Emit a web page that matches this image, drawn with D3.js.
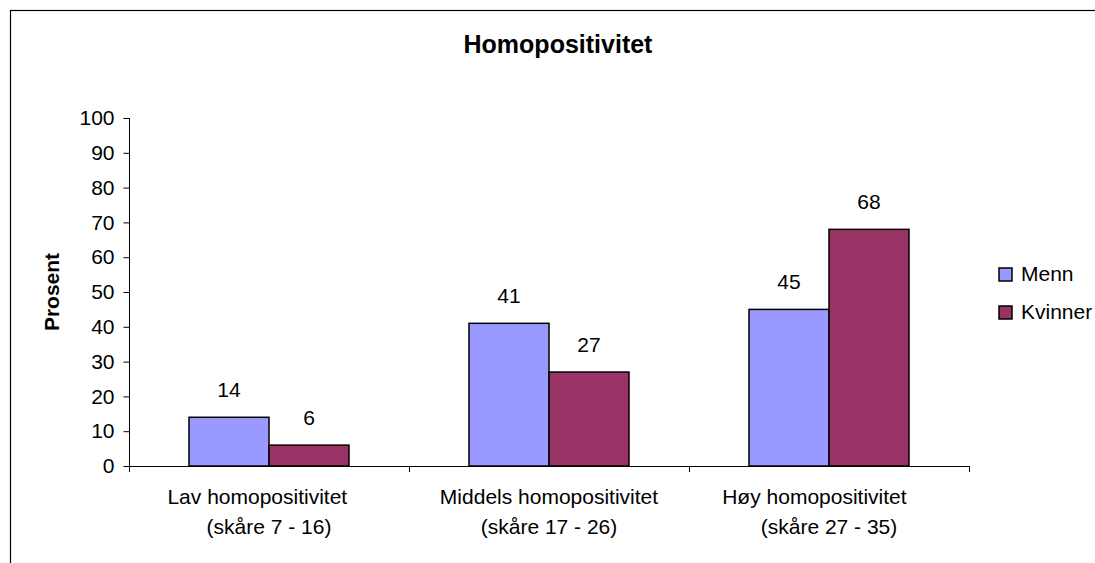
<!DOCTYPE html>
<html>
<head>
<meta charset="utf-8">
<script src="https://cdn.jsdelivr.net/npm/d3@7"></script>
<style>
  body { margin: 0; background: #fff; }
  svg { display: block; font-family: "Liberation Sans", Arial, sans-serif; }
</style>
</head>
<body>
<svg id="chart" width="1095" height="563"></svg>
<script>
//Chart data
var categories = ["Lav", "Middels", "Høy"];
var labelLine1 = ["Lav homopositivitet    ", "Middels homopositivitet", "Høy homopositivitet     "];
var labelLine2 = ["(skåre 7 - 16)", "(skåre 17 - 26)", "(skåre 27 - 35)"];
var seriesNames = ["Menn", "Kvinner"];
var menn = [14, 41, 45];
var kvinner = [6, 27, 68];
var yTicks = [0, 10, 20, 30, 40, 50, 60, 70, 80, 90, 100];
var colors = ["#9999FF", "#993366"];

var svg = d3.select("#chart");

//Outer frame (runs off the right and bottom edge)
svg.append("rect")
    .attr("x", 10.5).attr("y", 10.5)
    .attr("width", 1300).attr("height", 1000)
    .attr("fill", "none")
    .attr("stroke", "#000")
    .attr("stroke-width", 1.2);

//Scales
var xScale = d3.scaleBand()
    .domain(categories)
    .range([129, 969]);

var xInner = d3.scaleBand()
    .domain(seriesNames)
    .range([60, 220]);

var yScale = d3.scaleLinear()
    .domain([0, 100])
    .range([466, 118]);

//Title
svg.append("text")
    .attr("x", 558).attr("y", 53)
    .attr("text-anchor", "middle")
    .attr("font-size", 25)
    .attr("font-weight", "bold")
    .text("Homopositivitet");

//Y axis
var yAxis = d3.axisLeft(yScale)
    .tickValues(yTicks)
    .tickSize(6)
    .tickPadding(9)
    .tickSizeOuter(0);

var yG = svg.append("g")
    .attr("transform", "translate(129.5,0)")
    .call(yAxis);
yG.select(".domain").attr("stroke", "#000").attr("d", "M0,118V472");
yG.selectAll(".tick line").attr("stroke", "#000");
yG.selectAll(".tick text")
    .attr("font-size", 21)
    .attr("font-family", "Liberation Sans, Arial, sans-serif")
    .attr("fill", "#000");

//Y axis title
svg.append("text")
    .attr("transform", "translate(59,292) rotate(-90)")
    .attr("text-anchor", "middle")
    .attr("font-size", 21)
    .attr("font-weight", "bold")
    .text("Prosent");

//X axis line with category separators
var xG = svg.append("g").attr("class", "xaxis");
xG.append("line")
    .attr("x1", 129).attr("x2", xScale.range()[1] + 0.5)
    .attr("y1", yScale(0) + 0.5).attr("y2", yScale(0) + 0.5)
    .attr("stroke", "#000");
var bounds = categories.map(function(c){ return xScale(c) + xScale.bandwidth(); });
xG.selectAll(".sep")
    .data(bounds)
    .enter()
    .append("line")
    .attr("x1", function(d){ return Math.round(d) + 0.5; })
    .attr("x2", function(d){ return Math.round(d) + 0.5; })
    .attr("y1", yScale(0))
    .attr("y2", yScale(0) + 6)
    .attr("stroke", "#000");

//Bars
var series = [menn, kvinner];
var groups = svg.selectAll(".series")
    .data(series)
    .enter()
    .append("g")
    .attr("fill", function(d, i){ return colors[i]; });

groups.selectAll("rect")
    .data(function(vals, i){
        return vals.map(function(v, j){ return {value: v, cat: categories[j], s: seriesNames[i]}; });
    })
    .enter()
    .append("rect")
    .attr("x", function(d){ return xScale(d.cat) + xInner(d.s); })
    .attr("y", function(d){ return yScale(d.value); })
    .attr("width", xInner.bandwidth())
    .attr("height", function(d){ return yScale(0) - yScale(d.value); })
    .attr("stroke", "#000")
    .attr("stroke-width", 1.5);

//Value labels
groups.selectAll(".val")
    .data(function(vals, i){
        return vals.map(function(v, j){ return {value: v, cat: categories[j], s: seriesNames[i]}; });
    })
    .enter()
    .append("text")
    .attr("x", function(d){ return xScale(d.cat) + xInner(d.s) + xInner.bandwidth() / 2; })
    .attr("y", function(d){ return yScale(d.value) - 20; })
    .attr("text-anchor", "middle")
    .attr("font-size", 21)
    .attr("fill", "#000")
    .text(function(d){ return d.value; });

//Category labels
var catLabels = svg.selectAll(".cat")
    .data(categories)
    .enter()
    .append("text")
    .attr("text-anchor", "middle")
    .attr("font-size", 21)
    .attr("xml:space", "preserve")
    .style("white-space", "pre");

catLabels.append("tspan")
    .attr("x", function(d){ return xScale(d) + xScale.bandwidth() / 2; })
    .attr("y", 504)
    .text(function(d, i){ return labelLine1[i]; });
catLabels.append("tspan")
    .attr("x", function(d){ return xScale(d) + xScale.bandwidth() / 2; })
    .attr("y", 534)
    .text(function(d, i){ return labelLine2[i]; });

//Legend
var legend = svg.selectAll(".legend")
    .data(seriesNames)
    .enter()
    .append("g")
    .attr("transform", function(d, i){ return "translate(999," + (268 + i * 38) + ")"; });

legend.append("rect")
    .attr("width", 13).attr("height", 13)
    .attr("fill", function(d, i){ return colors[i]; })
    .attr("stroke", "#000")
    .attr("stroke-width", 1.5);

legend.append("text")
    .attr("x", 22).attr("y", 13)
    .attr("font-size", 21)
    .text(function(d){ return d; });
</script>
</body>
</html>
